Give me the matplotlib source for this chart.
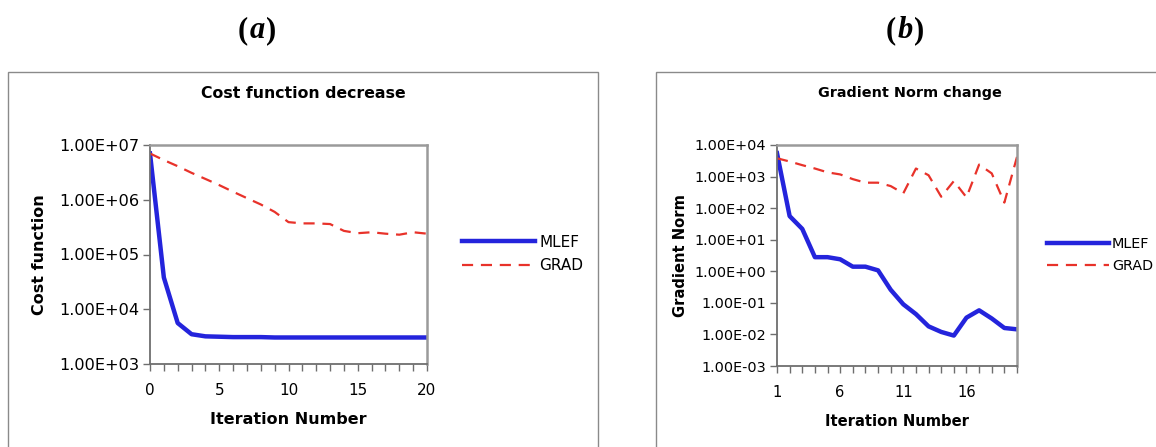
import numpy as np
import matplotlib
matplotlib.use("Agg")
import matplotlib.pyplot as plt
from matplotlib.patches import Rectangle
from matplotlib.ticker import FixedLocator, NullLocator, FuncFormatter
from matplotlib.offsetbox import TextArea, HPacker, AnchoredOffsetbox

# Panel (a): cost function per iteration
iter_a = list(range(0, 21))
mlef_cost = [7.0e6, 3.8e4, 5.6e3, 3.5e3, 3.2e3, 3.15e3, 3.1e3, 3.1e3, 3.1e3, 3.05e3,
             3.05e3, 3.05e3, 3.05e3, 3.05e3, 3.05e3, 3.05e3, 3.05e3, 3.05e3, 3.05e3,
             3.05e3, 3.05e3]
grad_cost = [7.0e6, 5.3e6, 4.1e6, 3.1e6, 2.4e6, 1.85e6, 1.4e6, 1.07e6, 8.2e5, 6.0e5,
             3.9e5, 3.7e5, 3.7e5, 3.6e5, 2.7e5, 2.45e5, 2.55e5, 2.4e5, 2.3e5, 2.55e5, 2.4e5]

# Panel (b): gradient norm per iteration
iter_b = list(range(1, 21))
mlef_norm = [5.5e3, 56, 22, 2.8, 2.8, 2.4, 1.4, 1.4, 1.07, 0.26, 0.09, 0.044, 0.018,
             0.012, 0.0092, 0.034, 0.058, 0.032, 0.016, 0.0145]
grad_norm = [3.8e3, 3.0e3, 2.3e3, 1.8e3, 1.36e3, 1.17e3, 830, 640, 640, 500, 295, 1.8e3,
             1.1e3, 230, 720, 220, 2.4e3, 1.26e3, 150, 4.2e3]

panel_letters = ["a", "b"]

W, H = 1156, 447
fig = plt.figure(figsize=(W / 100, H / 100), dpi=100)
fig.patch.set_facecolor("white")

BLUE = "#2424dc"
RED = "#e8322a"


def fx(px):
    return px / W


def fy(py):
    return 1 - py / H


# outer chart frames
for (x0, x1) in [(8, 598), (656, 1170)]:
    fig.add_artist(Rectangle((fx(x0), fy(460)), fx(x1) - fx(x0), fy(72) - fy(460),
                             transform=fig.transFigure, fill=False,
                             edgecolor="#8a8a8a", linewidth=1.0, clip_on=False))

sci = FuncFormatter(lambda v, p: f"{v:.2E}")


def style_axes(ax, ytick_fs, xtick_fs):
    for side in ["top", "right"]:
        ax.spines[side].set_color("#9a9a9a")
        ax.spines[side].set_linewidth(1.8)
    for side in ["left", "bottom"]:
        ax.spines[side].set_color("#6e6e6e")
        ax.spines[side].set_linewidth(1.3)
    ax.tick_params(axis="y", which="major", direction="out", length=5,
                   width=1.0, color="#6e6e6e", labelsize=ytick_fs, pad=3)
    ax.tick_params(axis="x", which="major", direction="out", length=5,
                   width=1.0, color="#6e6e6e", labelsize=xtick_fs, pad=9)
    ax.tick_params(axis="x", which="minor", direction="out", length=5,
                   width=1.0, color="#6e6e6e")
    ax.yaxis.set_minor_locator(NullLocator())
    ax.yaxis.set_major_formatter(sci)


# ---- (a) ----
ax1 = fig.add_axes([fx(150), fy(364), fx(427) - fx(150), fy(145) - fy(364)])
l1, = ax1.plot(iter_a, mlef_cost, color=BLUE, lw=3.2, solid_joinstyle="round", label="MLEF")
l2, = ax1.plot(iter_a, grad_cost, color=RED, lw=1.6, dashes=(5, 3.5), label="GRAD")
ax1.set_yscale("log")
ax1.set_ylim(1e3, 1e7)
ax1.set_xlim(0, 20)
ax1.yaxis.set_major_locator(FixedLocator([1e3, 1e4, 1e5, 1e6, 1e7]))
ax1.xaxis.set_major_locator(FixedLocator([0, 5, 10, 15, 20]))
ax1.xaxis.set_minor_locator(FixedLocator(iter_a))
style_axes(ax1, 11.6, 11)
ax1.set_xlabel("Iteration Number", fontsize=11.5, fontweight="bold", labelpad=10)
ax1.set_ylabel("Cost function", fontsize=11.5, fontweight="bold")
ax1.yaxis.set_label_coords(-0.372, 0.5)
fig.text(fx(303), fy(93), "Cost function decrease", ha="center", va="center",
         fontsize=11.3, fontweight="bold")
fig.legend(handles=[l1, l2], loc="center left", bbox_to_anchor=(fx(462), fy(254)),
           frameon=False, fontsize=11, handlelength=4.8, handletextpad=0.25,
           borderpad=0, borderaxespad=0, labelspacing=0.55)

# ---- (b) ----
ax2 = fig.add_axes([fx(777), fy(366), fx(1017) - fx(777), fy(145) - fy(366)])
m1, = ax2.plot(iter_b, mlef_norm, color=BLUE, lw=3.2, solid_joinstyle="round", label="MLEF")
m2, = ax2.plot(iter_b, grad_norm, color=RED, lw=1.6, dashes=(5, 3.5), label="GRAD")
ax2.set_yscale("log")
ax2.set_ylim(1e-3, 1e4)
ax2.set_xlim(1, 20)
ax2.yaxis.set_major_locator(FixedLocator([10.0 ** k for k in range(-3, 5)]))
ax2.xaxis.set_major_locator(FixedLocator([1, 6, 11, 16]))
ax2.xaxis.set_minor_locator(FixedLocator(iter_b))
style_axes(ax2, 10.4, 10.6)
ax2.set_xlabel("Iteration Number", fontsize=10.6, fontweight="bold", labelpad=10)
ax2.set_ylabel("Gradient Norm", fontsize=10.6, fontweight="bold")
ax2.yaxis.set_label_coords(-0.37, 0.5)
fig.text(fx(910), fy(93), "Gradient Norm change", ha="center", va="center",
         fontsize=10.4, fontweight="bold")
fig.legend(handles=[m1, m2], loc="center left", bbox_to_anchor=(fx(1047), fy(255)),
           frameon=False, fontsize=10.4, handlelength=4.3, handletextpad=0.2,
           borderpad=0, borderaxespad=0, labelspacing=0.6)

# panel letters: upright bold parentheses around a bold italic letter
for x, s in zip([257, 905], panel_letters):
    props = dict(fontsize=22, family="Liberation Serif", fontweight="bold")
    parts = [TextArea("(", textprops=props),
             TextArea(s, textprops=dict(props, style="italic")),
             TextArea(")", textprops=props)]
    pack = HPacker(children=parts, align="baseline", pad=0, sep=1)
    box = AnchoredOffsetbox(loc="center", child=pack, frameon=False, pad=0,
                            bbox_to_anchor=(fx(x), fy(31)),
                            bbox_transform=fig.transFigure, borderpad=0)
    fig.add_artist(box)

fig.savefig("out.png", dpi=100, facecolor="white")
